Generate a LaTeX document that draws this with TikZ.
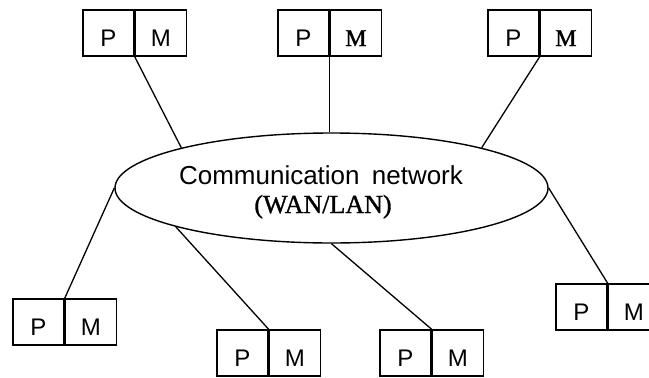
\documentclass[tikz,border=0pt]{standalone}
\usepackage{fontspec}
\setmainfont{Liberation Sans}
\newfontfamily\serifface{Liberation Serif}[FakeBold=1.2]
\usetikzlibrary{shapes.geometric}
\begin{document}
\begin{tikzpicture}[x=1pt, y=-1pt, line width=1.4pt,
  half/.style={draw, rectangle, minimum width=51pt, minimum height=46pt,
    inner sep=0pt, text height=36pt, text depth=10pt,
    font=\fontsize{24}{28}\selectfont},
  link/.style={line width=1.3pt},
  netshape/.style={draw, ellipse, minimum width=433pt, minimum height=110pt,
    inner sep=0pt}]
\useasboundingbox (0,0) rectangle (649,378);
\clip (0,0) rectangle (649,378);

% network cloud and its caption
\node[netshape] (net) at (331.5,188) {};
\node[anchor=base, font=\fontsize{26}{30}\selectfont] (lbl1) at (321,184) {Communication\hspace{5pt} network};
\node[anchor=base, font=\serifface\fontsize{26}{30}\selectfont] (lbl2) at (323,213) {(WAN/LAN)};

% processor/memory pairs, upper row
\node[half] (t1p) at (108.5,33) {P};
\node[half, anchor=west] (t1m) at (t1p.east) {M};
\node[half] (t2p) at (303.5,33) {P};
\node[half, anchor=west] (t2m) at (t2p.east) {\serifface M};
\node[half] (t3p) at (513.5,33) {P};
\node[half, anchor=west] (t3m) at (t3p.east) {\serifface M};

% processor/memory pairs, lower row
\node[half] (b1p) at (38.5,322) {P};
\node[half, anchor=west] (b1m) at (b1p.east) {M};
\node[half] (b2p) at (242.5,353) {P};
\node[half, anchor=west] (b2m) at (b2p.east) {M};
\node[half] (b3p) at (405.5,353) {P};
\node[half, anchor=west] (b3m) at (b3p.east) {M};
\node[half] (b4p) at (581.5,307) {P};
\node[half, anchor=west] (b4m) at (b4p.east) {M};

% links into the network
\draw[link] (t1p.south east) -- (net.165.7);
\draw[link] (t2p.south east) -- (t2p.south east |- net.north);
\draw[link] (t3p.south east) -- (net.15.1);
\draw[link] (b1p.north east) -- (net.west);
\draw[link] (b2p.north east) -- (net.194.3);
\draw[link] (b3p.north east) -- (net.south);
\draw[link] (b4p.north east) -- (net.east);
\end{tikzpicture}
\end{document}
